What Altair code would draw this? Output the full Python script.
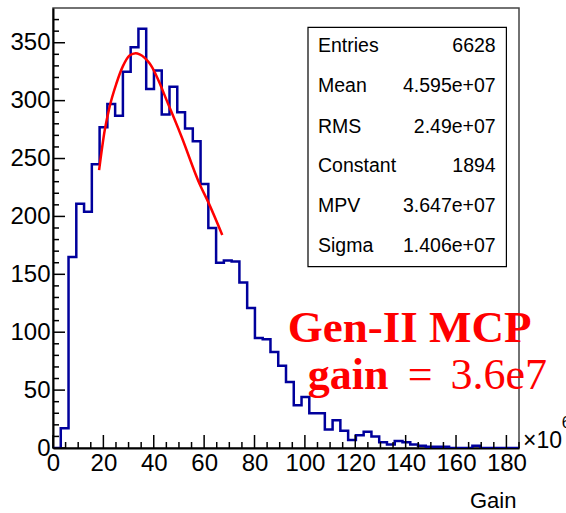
import altair as alt
import pandas as pd

# ---- data ----
x_min, x_max = 0.0, 185.0          # Gain (x10^6)
n_bins = 60
bin_counts = [0, 17, 165, 211, 204, 245, 277, 297, 287, 325, 346, 362, 310, 326, 288,
              312, 290, 276, 265, 228, 190, 160, 162, 161, 143, 121, 95, 94, 83, 71,
              57, 37, 44, 30, 30, 16, 24, 15, 7, 11, 14, 10, 5, 3, 6,
              5, 3, 2, 1, 1, 1, 0, 0, 0, 2, 0, 0, 0, 0, 0]

fit_x = [18.3, 20.5, 22.5, 25.2, 27.8, 30.4, 32.8, 34.4, 38.4, 46.3, 51.0, 58.2, 61.5, 67.2]
fit_y = [240, 274, 295, 315, 330, 339, 341, 340, 332, 294, 269, 228, 213, 184]

stats_names = ["Entries", "Mean", "RMS", "Constant", "MPV", "Sigma"]
stats_values = ["6628", "4.595e+07", "2.49e+07", "1894", "3.647e+07", "1.406e+07"]

x_major = [0, 20, 40, 60, 80, 100, 120, 140, 160, 180]
x_minor = [v for v in range(0, 186, 5) if v % 20 != 0]
y_major = [0, 50, 100, 150, 200, 250, 300, 350]
y_minor = [v for v in range(0, 371, 10) if v % 50 != 0]

W, H = 466, 440
bw = (x_max - x_min) / n_bins
edges = [x_min + i * bw for i in range(n_bins + 1)]
hist_df = pd.DataFrame({"x": edges, "y": bin_counts + [bin_counts[-1]]})
fit_df = pd.DataFrame({"x": fit_x, "y": fit_y})

xs = alt.Scale(domain=[x_min, x_max], nice=False, zero=False)
ys = alt.Scale(domain=[0, 380], nice=False)
SANS = "Liberation Sans, Arial, sans-serif"
SERIF = "Liberation Serif, Times New Roman, serif"

hist = alt.Chart(hist_df).mark_line(
    interpolate="step-after", color="#00009c", strokeWidth=2.5, clip=True
).encode(
    x=alt.X("x:Q", scale=xs, axis=alt.Axis(values=x_major, ticks=False, grid=False,
            domainColor="black", domainWidth=2, labelFont=SANS, labelFontSize=24,
            labelColor="black", labelPadding=3, title=None, labelFlush=False)),
    y=alt.Y("y:Q", scale=ys, axis=alt.Axis(values=y_major, ticks=False, grid=False,
            domainColor="black", domainWidth=2, labelFont=SANS, labelFontSize=24,
            labelColor="black", labelPadding=3, title=None, labelFlush=False)),
)

fit = alt.Chart(fit_df).mark_line(
    interpolate="monotone", color="#ff0000", strokeWidth=2.5
).encode(x=alt.X("x:Q", scale=xs), y=alt.Y("y:Q", scale=ys))

ymaj = alt.Chart(pd.DataFrame({"v": y_major})).mark_rule(color="black", strokeWidth=1.5).encode(
    y=alt.Y("v:Q", scale=ys), x=alt.value(0), x2=alt.value(12))
ymin = alt.Chart(pd.DataFrame({"v": y_minor})).mark_rule(color="black", strokeWidth=1.5).encode(
    y=alt.Y("v:Q", scale=ys), x=alt.value(0), x2=alt.value(6))
xmaj = alt.Chart(pd.DataFrame({"v": x_major})).mark_rule(color="black", strokeWidth=1.5).encode(
    x=alt.X("v:Q", scale=xs), y=alt.value(H), y2=alt.value(H - 13))
xmin = alt.Chart(pd.DataFrame({"v": x_minor})).mark_rule(color="black", strokeWidth=1.5).encode(
    x=alt.X("v:Q", scale=xs), y=alt.value(H), y2=alt.value(H - 6))

# stats box
box = alt.Chart(pd.DataFrame({"a": [0]})).mark_rect(
    fill="white", stroke="black", strokeWidth=1.2
).encode(x=alt.value(255), x2=alt.value(453.4), y=alt.value(19.3), y2=alt.value(258.7))

row_y = [37.7, 78, 118.7, 158, 198, 238]
stat_layers = []
for name, val, ry in zip(stats_names, stats_values, row_y):
    stat_layers.append(alt.Chart(pd.DataFrame({"t": [name]})).mark_text(
        align="left", baseline="middle", font=SANS, fontSize=19.5, color="black"
    ).encode(text="t:N", x=alt.value(265), y=alt.value(ry)))
    stat_layers.append(alt.Chart(pd.DataFrame({"t": [val]})).mark_text(
        align="right", baseline="middle", font=SANS, fontSize=19.5, color="black"
    ).encode(text="t:N", x=alt.value(442.7), y=alt.value(ry)))


def label(text, x, y, size, font=SANS, weight="normal", color="black", align="left"):
    return alt.Chart(pd.DataFrame({"t": [text]})).mark_text(
        align=align, baseline="alphabetic", font=font, fontSize=size,
        fontWeight=weight, color=color
    ).encode(text="t:N", x=alt.value(x), y=alt.value(y))


texts = [
    label("Gain", 463.4, 500, 22, align="right"),
    label("×10", 470, 440, 23),
    label("6", 508.7, 420, 16),
    label("Gen-II MCP", 234.7, 333.7, 45, font=SERIF, weight="bold", color="#ff0000"),
    label("gain", 254.7, 381, 44, font=SERIF, weight="bold", color="#ff0000"),
    label("=", 354.7, 381, 44, font=SERIF, color="#ff0000"),
    label("3.6e7", 397.4, 381, 44, font=SERIF, color="#ff0000"),
]

chart = alt.layer(
    hist, fit, ymaj, ymin, xmaj, xmin, box, *stat_layers, *texts
).properties(
    width=W, height=H,
    autosize=alt.AutoSizeParams(type="none"),
    padding={"left": 53, "top": 8, "right": 47, "bottom": 65},
    background="white",
).configure_view(stroke="#444444", strokeWidth=1.5)

chart.save("out.html", embed_options={"renderer": "svg", "actions": False})
